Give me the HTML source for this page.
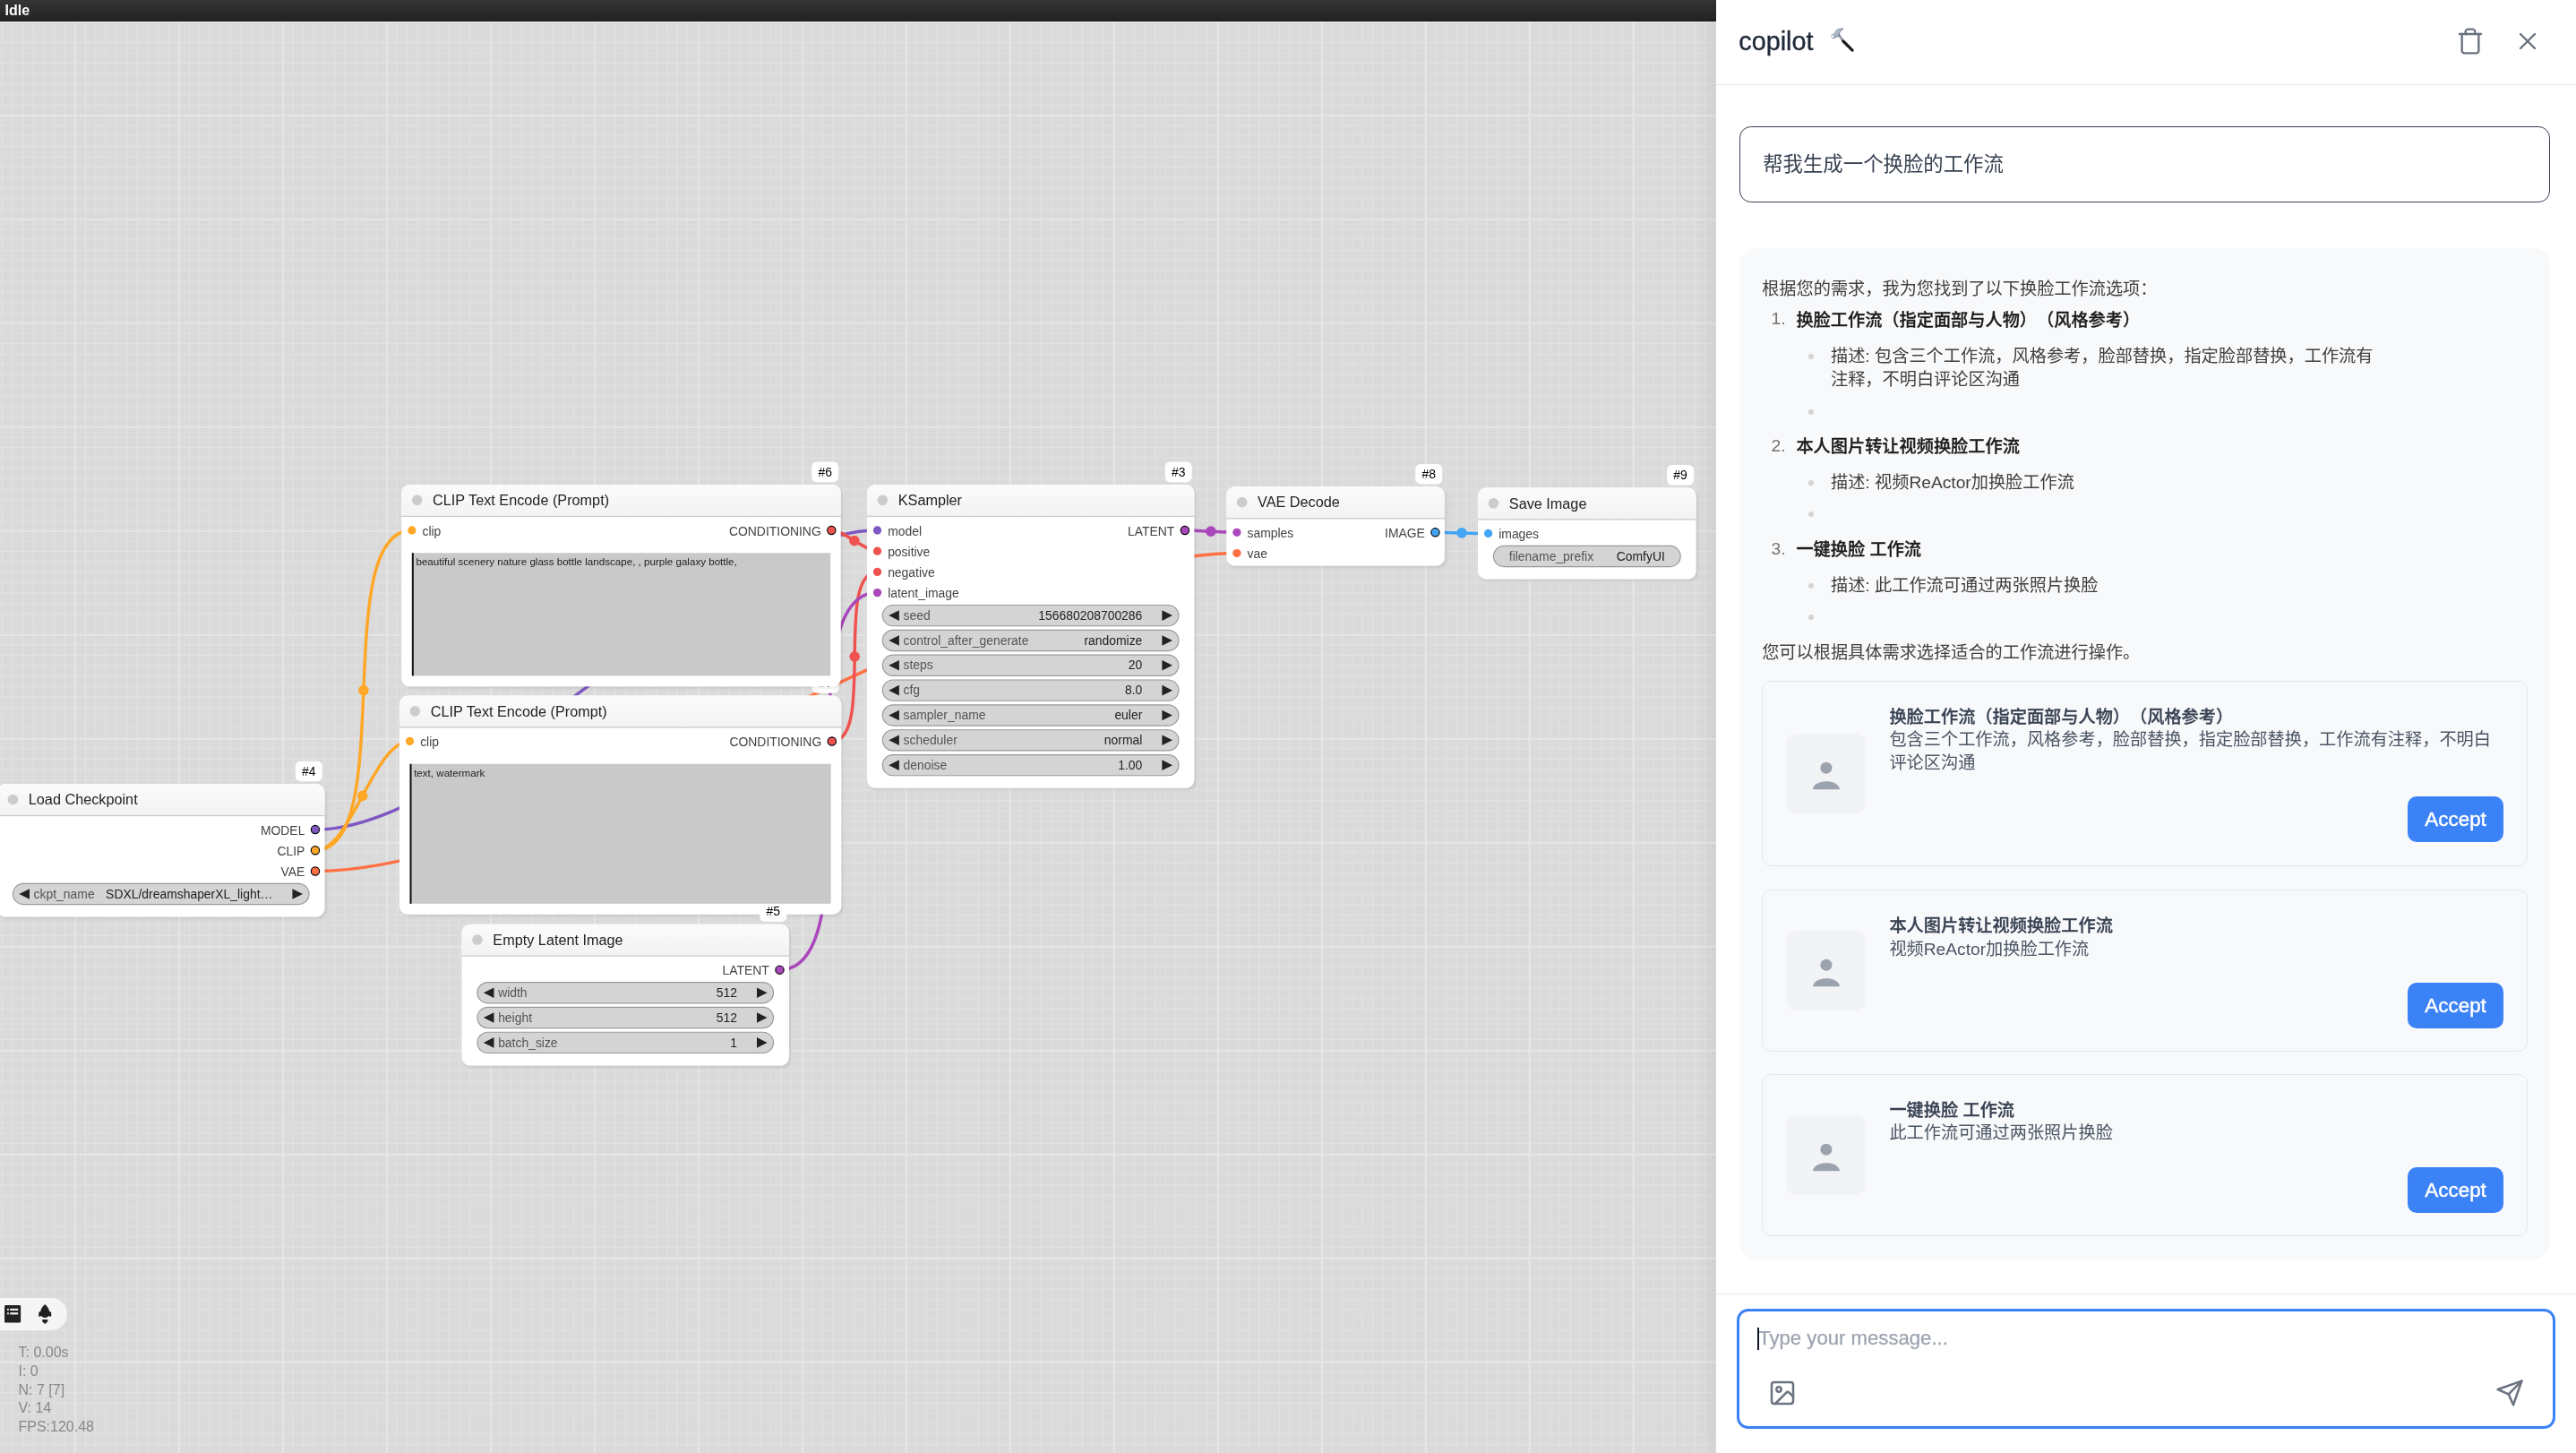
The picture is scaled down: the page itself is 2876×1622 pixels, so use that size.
<!DOCTYPE html>
<html lang="zh"><head><meta charset="utf-8"><title>ComfyUI</title>
<style>
html,body{margin:0;padding:0;width:2876px;height:1622px;overflow:hidden;background:#dadada;font-family:"Liberation Sans", "Noto Sans CJK SC", sans-serif}
#root{position:absolute;left:0;top:0;width:2876px;height:1622px;will-change:transform}
.a{position:absolute}
.t{position:absolute;white-space:nowrap;text-spacing-trim:space-all}
#cv{position:absolute;left:0;top:0;width:1916px;height:1622px;overflow:hidden;background-color:#dadada;
background-image:
linear-gradient(to right,#e5e5e5 0,#e5e5e5 2px,transparent 2px),
linear-gradient(to bottom,#e5e5e5 0,#e5e5e5 2px,transparent 2px),
linear-gradient(to right,#e2e2e2 0,#e2e2e2 1.3px,transparent 1.3px),
linear-gradient(to bottom,#e2e2e2 0,#e2e2e2 1.3px,transparent 1.3px);
background-size:116px 116px,116px 116px,11.6px 11.6px,11.6px 11.6px;
background-position:83px 0,0 11.9px,83.3px 0,0 12.2px}
#bar{position:absolute;left:0;top:0;width:1916px;height:24px;background:linear-gradient(#353535,#232323);border-bottom:1px solid #161616;box-shadow:0 1px 0 #ececec;box-sizing:border-box;color:#fff;font-weight:700;font-size:16px;line-height:23px;padding-left:5.5px}
#pill{position:absolute;left:0;top:1449px;width:75px;height:36px;border-radius:0 18px 18px 0;background:#f5f5f5}
#stats{position:absolute;left:20.5px;top:1500.2px;color:#888;font-size:16px;line-height:20.75px;white-space:pre}
#panel{position:absolute;left:1916px;top:0;width:960px;height:1622px;background:#fff;box-shadow:0 0 26px rgba(0,0,0,0.09)}
.btn{width:107.2px;height:51px;border-radius:10px;background:#3b82f6;color:#fff;font-size:22.4px;line-height:52px;text-align:center;font-weight:400;-webkit-text-stroke:0.45px #fff}
</style></head><body>
<div id="root">
<div id="cv">
<svg width="1916" height="1622" viewBox="0 0 1916 1622" style="position:absolute;left:0;top:0;font-family:'Liberation Sans', 'Noto Sans CJK SC', sans-serif" overflow="hidden">
<defs><linearGradient id="tg" x1="0" y1="0" x2="0" y2="1"><stop offset="0" stop-color="#fbfbfb"/><stop offset="1" stop-color="#f3f3f3"/></linearGradient><filter id="sh" x="-5%" y="-5%" width="110%" height="115%"><feDropShadow dx="2.3" dy="2.3" stdDeviation="1.8" flood-color="#000" flood-opacity="0.085"/></filter></defs>
<path d="M351.97 926.08 C529.71 926.08 801.79 592 979.53 592" fill="none" stroke="#7E57C2" stroke-width="3.48"/>
<circle cx="665.75" cy="759.04" r="5.8" fill="#7E57C2"/>
<path d="M351.97 949.28 C445.27 949.28 366.55 592 459.85 592" fill="none" stroke="#FFA726" stroke-width="3.48"/>
<circle cx="405.91" cy="770.64" r="5.8" fill="#FFA726"/>
<path d="M351.97 949.28 C392.26 949.28 417.24 827.48 457.53 827.48" fill="none" stroke="#FFA726" stroke-width="3.48"/>
<circle cx="404.75" cy="888.38" r="5.8" fill="#FFA726"/>
<path d="M351.97 972.48 C624.08 972.48 1108.78 617.52 1380.89 617.52" fill="none" stroke="#FF7043" stroke-width="3.48"/>
<circle cx="866.43" cy="795" r="5.8" fill="#FF7043"/>
<path d="M928.32 592 C942.37 592 965.47 615.2 979.53 615.2" fill="none" stroke="#EF5350" stroke-width="3.48"/>
<circle cx="953.92" cy="603.6" r="5.8" fill="#EF5350"/>
<path d="M928.81 827.48 C977.76 827.48 930.59 638.4 979.53 638.4" fill="none" stroke="#EF5350" stroke-width="3.48"/>
<circle cx="954.17" cy="732.94" r="5.8" fill="#EF5350"/>
<path d="M870.49 1082.68 C979.23 1082.68 870.79 661.6 979.53 661.6" fill="none" stroke="#AB47BC" stroke-width="3.48"/>
<circle cx="925.01" cy="872.14" r="5.8" fill="#AB47BC"/>
<path d="M1322.89 592 C1337.4 592 1366.38 594.32 1380.89 594.32" fill="none" stroke="#AB47BC" stroke-width="3.48"/>
<circle cx="1351.89" cy="593.16" r="5.8" fill="#AB47BC"/>
<path d="M1602.45 594.32 C1617.24 594.32 1646.82 595.48 1661.61 595.48" fill="none" stroke="#42A5F5" stroke-width="3.48"/>
<circle cx="1632.03" cy="594.9" r="5.8" fill="#42A5F5"/>
<g filter="url(#sh)">
<path d="M455.21 776.44 h474.76 a9.28 9.28 0 0 1 9.28 9.28 v225.75 a9.28 9.28 0 0 1 -9.28 9.28 h-474.76 a9.28 9.28 0 0 1 -9.28 -9.28 v-225.75 a9.28 9.28 0 0 1 9.28 -9.28 z" fill="#fff"/>
</g>
<path d="M455.21 776.44 h474.76 a9.28 9.28 0 0 1 9.28 9.28 v25.52 h-493.32 v-25.52 a9.28 9.28 0 0 1 9.28 -9.28 z" fill="url(#tg)"/>
<rect x="445.93" y="811.24" width="493.32" height="1.35" fill="rgba(0,0,0,0.2)"/>
<circle cx="463.33" cy="793.84" r="5.8" fill="#ccc"/>
<text x="480.73" y="799.64" font-size="16.24" fill="#222">CLIP Text Encode (Prompt)</text>
<circle cx="457.53" cy="827.48" r="4.64" fill="#FFA726"/>
<text x="469.13" y="833.28" font-size="13.92" fill="#444">clip</text>
<circle cx="928.81" cy="827.48" r="4.64" fill="#EF5350" stroke="#000" stroke-width="1.16"/>
<text x="917.21" y="833.28" font-size="13.92" fill="#444" text-anchor="end">CONDITIONING</text>
<rect x="906.65" y="751.04" width="30" height="22.6" rx="5.8" fill="#fff"/>
<text x="921.65" y="767.04" font-size="13.92" fill="#000" text-anchor="middle">#7</text>
<g filter="url(#sh)">
<path d="M457.53 540.96 h471.95 a9.28 9.28 0 0 1 9.28 9.28 v206.84 a9.28 9.28 0 0 1 -9.28 9.28 h-471.95 a9.28 9.28 0 0 1 -9.28 -9.28 v-206.84 a9.28 9.28 0 0 1 9.28 -9.28 z" fill="#fff"/>
</g>
<path d="M457.53 540.96 h471.95 a9.28 9.28 0 0 1 9.28 9.28 v25.52 h-490.51 v-25.52 a9.28 9.28 0 0 1 9.28 -9.28 z" fill="url(#tg)"/>
<rect x="448.25" y="575.76" width="490.51" height="1.35" fill="rgba(0,0,0,0.2)"/>
<circle cx="465.65" cy="558.36" r="5.8" fill="#ccc"/>
<text x="483.05" y="564.16" font-size="16.24" fill="#222">CLIP Text Encode (Prompt)</text>
<circle cx="459.85" cy="592" r="4.64" fill="#FFA726"/>
<text x="471.45" y="597.8" font-size="13.92" fill="#444">clip</text>
<circle cx="928.32" cy="592" r="4.64" fill="#EF5350" stroke="#000" stroke-width="1.16"/>
<text x="916.72" y="597.8" font-size="13.92" fill="#444" text-anchor="end">CONDITIONING</text>
<rect x="906.16" y="515.56" width="30" height="22.6" rx="5.8" fill="#fff"/>
<text x="921.16" y="531.56" font-size="13.92" fill="#000" text-anchor="middle">#6</text>
<g filter="url(#sh)">
<path d="M524.81 1031.64 h346.84 a9.28 9.28 0 0 1 9.28 9.28 v139.2 a9.28 9.28 0 0 1 -9.28 9.28 h-346.84 a9.28 9.28 0 0 1 -9.28 -9.28 v-139.2 a9.28 9.28 0 0 1 9.28 -9.28 z" fill="#fff"/>
</g>
<path d="M524.81 1031.64 h346.84 a9.28 9.28 0 0 1 9.28 9.28 v25.52 h-365.4 v-25.52 a9.28 9.28 0 0 1 9.28 -9.28 z" fill="url(#tg)"/>
<rect x="515.53" y="1066.44" width="365.4" height="1.35" fill="rgba(0,0,0,0.2)"/>
<circle cx="532.93" cy="1049.04" r="5.8" fill="#ccc"/>
<text x="550.33" y="1054.84" font-size="16.24" fill="#222">Empty Latent Image</text>
<circle cx="870.49" cy="1082.68" r="4.64" fill="#AB47BC" stroke="#000" stroke-width="1.16"/>
<text x="858.89" y="1088.48" font-size="13.92" fill="#444" text-anchor="end">LATENT</text>
<rect x="532.93" y="1096.6" width="330.6" height="23.2" rx="11.6" fill="#D4D4D4" stroke="#999" stroke-width="1.16"/>
<path d="M551.49 1102.4 L539.89 1108.2 L551.49 1114 z" fill="#222"/>
<path d="M844.97 1102.4 L856.57 1108.2 L844.97 1114 z" fill="#222"/>
<text x="556.13" y="1112.84" font-size="13.92" fill="#555">width</text>
<text x="822.93" y="1112.84" font-size="13.92" fill="#222" text-anchor="end">512</text>
<rect x="532.93" y="1124.44" width="330.6" height="23.2" rx="11.6" fill="#D4D4D4" stroke="#999" stroke-width="1.16"/>
<path d="M551.49 1130.24 L539.89 1136.04 L551.49 1141.84 z" fill="#222"/>
<path d="M844.97 1130.24 L856.57 1136.04 L844.97 1141.84 z" fill="#222"/>
<text x="556.13" y="1140.68" font-size="13.92" fill="#555">height</text>
<text x="822.93" y="1140.68" font-size="13.92" fill="#222" text-anchor="end">512</text>
<rect x="532.93" y="1152.28" width="330.6" height="23.2" rx="11.6" fill="#D4D4D4" stroke="#999" stroke-width="1.16"/>
<path d="M551.49 1158.08 L539.89 1163.88 L551.49 1169.68 z" fill="#222"/>
<path d="M844.97 1158.08 L856.57 1163.88 L844.97 1169.68 z" fill="#222"/>
<text x="556.13" y="1168.52" font-size="13.92" fill="#555">batch_size</text>
<text x="822.93" y="1168.52" font-size="13.92" fill="#222" text-anchor="end">1</text>
<rect x="848.33" y="1006.24" width="30" height="22.6" rx="5.8" fill="#fff"/>
<text x="863.33" y="1022.24" font-size="13.92" fill="#000" text-anchor="middle">#5</text>
<g filter="url(#sh)">
<path d="M977.21 540.96 h346.84 a9.28 9.28 0 0 1 9.28 9.28 v320.16 a9.28 9.28 0 0 1 -9.28 9.28 h-346.84 a9.28 9.28 0 0 1 -9.28 -9.28 v-320.16 a9.28 9.28 0 0 1 9.28 -9.28 z" fill="#fff"/>
</g>
<path d="M977.21 540.96 h346.84 a9.28 9.28 0 0 1 9.28 9.28 v25.52 h-365.4 v-25.52 a9.28 9.28 0 0 1 9.28 -9.28 z" fill="url(#tg)"/>
<rect x="967.93" y="575.76" width="365.4" height="1.35" fill="rgba(0,0,0,0.2)"/>
<circle cx="985.33" cy="558.36" r="5.8" fill="#ccc"/>
<text x="1002.73" y="564.16" font-size="16.24" fill="#222">KSampler</text>
<circle cx="979.53" cy="592" r="4.64" fill="#7E57C2"/>
<text x="991.13" y="597.8" font-size="13.92" fill="#444">model</text>
<circle cx="979.53" cy="615.2" r="4.64" fill="#EF5350"/>
<text x="991.13" y="621" font-size="13.92" fill="#444">positive</text>
<circle cx="979.53" cy="638.4" r="4.64" fill="#EF5350"/>
<text x="991.13" y="644.2" font-size="13.92" fill="#444">negative</text>
<circle cx="979.53" cy="661.6" r="4.64" fill="#AB47BC"/>
<text x="991.13" y="667.4" font-size="13.92" fill="#444">latent_image</text>
<circle cx="1322.89" cy="592" r="4.64" fill="#AB47BC" stroke="#000" stroke-width="1.16"/>
<text x="1311.29" y="597.8" font-size="13.92" fill="#444" text-anchor="end">LATENT</text>
<rect x="985.33" y="675.52" width="330.6" height="23.2" rx="11.6" fill="#D4D4D4" stroke="#999" stroke-width="1.16"/>
<path d="M1003.89 681.32 L992.29 687.12 L1003.89 692.92 z" fill="#222"/>
<path d="M1297.37 681.32 L1308.97 687.12 L1297.37 692.92 z" fill="#222"/>
<text x="1008.53" y="691.76" font-size="13.92" fill="#555">seed</text>
<text x="1275.33" y="691.76" font-size="13.92" fill="#222" text-anchor="end">156680208700286</text>
<rect x="985.33" y="703.36" width="330.6" height="23.2" rx="11.6" fill="#D4D4D4" stroke="#999" stroke-width="1.16"/>
<path d="M1003.89 709.16 L992.29 714.96 L1003.89 720.76 z" fill="#222"/>
<path d="M1297.37 709.16 L1308.97 714.96 L1297.37 720.76 z" fill="#222"/>
<text x="1008.53" y="719.6" font-size="13.92" fill="#555">control_after_generate</text>
<text x="1275.33" y="719.6" font-size="13.92" fill="#222" text-anchor="end">randomize</text>
<rect x="985.33" y="731.2" width="330.6" height="23.2" rx="11.6" fill="#D4D4D4" stroke="#999" stroke-width="1.16"/>
<path d="M1003.89 737 L992.29 742.8 L1003.89 748.6 z" fill="#222"/>
<path d="M1297.37 737 L1308.97 742.8 L1297.37 748.6 z" fill="#222"/>
<text x="1008.53" y="747.44" font-size="13.92" fill="#555">steps</text>
<text x="1275.33" y="747.44" font-size="13.92" fill="#222" text-anchor="end">20</text>
<rect x="985.33" y="759.04" width="330.6" height="23.2" rx="11.6" fill="#D4D4D4" stroke="#999" stroke-width="1.16"/>
<path d="M1003.89 764.84 L992.29 770.64 L1003.89 776.44 z" fill="#222"/>
<path d="M1297.37 764.84 L1308.97 770.64 L1297.37 776.44 z" fill="#222"/>
<text x="1008.53" y="775.28" font-size="13.92" fill="#555">cfg</text>
<text x="1275.33" y="775.28" font-size="13.92" fill="#222" text-anchor="end">8.0</text>
<rect x="985.33" y="786.88" width="330.6" height="23.2" rx="11.6" fill="#D4D4D4" stroke="#999" stroke-width="1.16"/>
<path d="M1003.89 792.68 L992.29 798.48 L1003.89 804.28 z" fill="#222"/>
<path d="M1297.37 792.68 L1308.97 798.48 L1297.37 804.28 z" fill="#222"/>
<text x="1008.53" y="803.12" font-size="13.92" fill="#555">sampler_name</text>
<text x="1275.33" y="803.12" font-size="13.92" fill="#222" text-anchor="end">euler</text>
<rect x="985.33" y="814.72" width="330.6" height="23.2" rx="11.6" fill="#D4D4D4" stroke="#999" stroke-width="1.16"/>
<path d="M1003.89 820.52 L992.29 826.32 L1003.89 832.12 z" fill="#222"/>
<path d="M1297.37 820.52 L1308.97 826.32 L1297.37 832.12 z" fill="#222"/>
<text x="1008.53" y="830.96" font-size="13.92" fill="#555">scheduler</text>
<text x="1275.33" y="830.96" font-size="13.92" fill="#222" text-anchor="end">normal</text>
<rect x="985.33" y="842.56" width="330.6" height="23.2" rx="11.6" fill="#D4D4D4" stroke="#999" stroke-width="1.16"/>
<path d="M1003.89 848.36 L992.29 854.16 L1003.89 859.96 z" fill="#222"/>
<path d="M1297.37 848.36 L1308.97 854.16 L1297.37 859.96 z" fill="#222"/>
<text x="1008.53" y="858.8" font-size="13.92" fill="#555">denoise</text>
<text x="1275.33" y="858.8" font-size="13.92" fill="#222" text-anchor="end">1.00</text>
<rect x="1300.73" y="515.56" width="30" height="22.6" rx="5.8" fill="#fff"/>
<text x="1315.73" y="531.56" font-size="13.92" fill="#000" text-anchor="middle">#3</text>
<g filter="url(#sh)">
<path d="M1378.57 543.28 h225.04 a9.28 9.28 0 0 1 9.28 9.28 v69.6 a9.28 9.28 0 0 1 -9.28 9.28 h-225.04 a9.28 9.28 0 0 1 -9.28 -9.28 v-69.6 a9.28 9.28 0 0 1 9.28 -9.28 z" fill="#fff"/>
</g>
<path d="M1378.57 543.28 h225.04 a9.28 9.28 0 0 1 9.28 9.28 v25.52 h-243.6 v-25.52 a9.28 9.28 0 0 1 9.28 -9.28 z" fill="url(#tg)"/>
<rect x="1369.29" y="578.08" width="243.6" height="1.35" fill="rgba(0,0,0,0.2)"/>
<circle cx="1386.69" cy="560.68" r="5.8" fill="#ccc"/>
<text x="1404.09" y="566.48" font-size="16.24" fill="#222">VAE Decode</text>
<circle cx="1380.89" cy="594.32" r="4.64" fill="#AB47BC"/>
<text x="1392.49" y="600.12" font-size="13.92" fill="#444">samples</text>
<circle cx="1380.89" cy="617.52" r="4.64" fill="#FF7043"/>
<text x="1392.49" y="623.32" font-size="13.92" fill="#444">vae</text>
<circle cx="1602.45" cy="594.32" r="4.64" fill="#42A5F5" stroke="#000" stroke-width="1.16"/>
<text x="1590.85" y="600.12" font-size="13.92" fill="#444" text-anchor="end">IMAGE</text>
<rect x="1580.29" y="517.88" width="30" height="22.6" rx="5.8" fill="#fff"/>
<text x="1595.29" y="533.88" font-size="13.92" fill="#000" text-anchor="middle">#8</text>
<g filter="url(#sh)">
<path d="M1659.29 544.44 h225.04 a9.28 9.28 0 0 1 9.28 9.28 v83.52 a9.28 9.28 0 0 1 -9.28 9.28 h-225.04 a9.28 9.28 0 0 1 -9.28 -9.28 v-83.52 a9.28 9.28 0 0 1 9.28 -9.28 z" fill="#fff"/>
</g>
<path d="M1659.29 544.44 h225.04 a9.28 9.28 0 0 1 9.28 9.28 v25.52 h-243.6 v-25.52 a9.28 9.28 0 0 1 9.28 -9.28 z" fill="url(#tg)"/>
<rect x="1650.01" y="579.24" width="243.6" height="1.35" fill="rgba(0,0,0,0.2)"/>
<circle cx="1667.41" cy="561.84" r="5.8" fill="#ccc"/>
<text x="1684.81" y="567.64" font-size="16.24" fill="#222">Save Image</text>
<circle cx="1661.61" cy="595.48" r="4.64" fill="#42A5F5"/>
<text x="1673.21" y="601.28" font-size="13.92" fill="#444">images</text>
<rect x="1667.41" y="609.4" width="208.8" height="23.2" rx="11.6" fill="#D4D4D4" stroke="#999" stroke-width="1.16"/>
<text x="1684.81" y="625.64" font-size="13.92" fill="#555">filename_prefix</text>
<text x="1858.81" y="625.64" font-size="13.92" fill="#222" text-anchor="end">ComfyUI</text>
<rect x="1861.01" y="519.04" width="30" height="22.6" rx="5.8" fill="#fff"/>
<text x="1876.01" y="535.04" font-size="13.92" fill="#000" text-anchor="middle">#9</text>
<g filter="url(#sh)">
<path d="M6.29 875.04 h346.84 a9.28 9.28 0 0 1 9.28 9.28 v129.92 a9.28 9.28 0 0 1 -9.28 9.28 h-346.84 a9.28 9.28 0 0 1 -9.28 -9.28 v-129.92 a9.28 9.28 0 0 1 9.28 -9.28 z" fill="#fff"/>
</g>
<path d="M6.29 875.04 h346.84 a9.28 9.28 0 0 1 9.28 9.28 v25.52 h-365.4 v-25.52 a9.28 9.28 0 0 1 9.28 -9.28 z" fill="url(#tg)"/>
<rect x="-2.99" y="909.84" width="365.4" height="1.35" fill="rgba(0,0,0,0.2)"/>
<circle cx="14.41" cy="892.44" r="5.8" fill="#ccc"/>
<text x="31.81" y="898.24" font-size="16.24" fill="#222">Load Checkpoint</text>
<circle cx="351.97" cy="926.08" r="4.64" fill="#7E57C2" stroke="#000" stroke-width="1.16"/>
<text x="340.37" y="931.88" font-size="13.92" fill="#444" text-anchor="end">MODEL</text>
<circle cx="351.97" cy="949.28" r="4.64" fill="#FFA726" stroke="#000" stroke-width="1.16"/>
<text x="340.37" y="955.08" font-size="13.92" fill="#444" text-anchor="end">CLIP</text>
<circle cx="351.97" cy="972.48" r="4.64" fill="#FF7043" stroke="#000" stroke-width="1.16"/>
<text x="340.37" y="978.28" font-size="13.92" fill="#444" text-anchor="end">VAE</text>
<rect x="14.41" y="986.4" width="330.6" height="23.2" rx="11.6" fill="#D4D4D4" stroke="#999" stroke-width="1.16"/>
<path d="M32.97 992.2 L21.37 998 L32.97 1003.8 z" fill="#222"/>
<path d="M326.45 992.2 L338.05 998 L326.45 1003.8 z" fill="#222"/>
<text x="37.61" y="1002.64" font-size="13.92" fill="#555">ckpt_name</text>
<text x="304.41" y="1002.64" font-size="13.92" fill="#222" text-anchor="end">SDXL/dreamshaperXL_light…</text>
<rect x="329.81" y="849.64" width="30" height="22.6" rx="5.8" fill="#fff"/>
<text x="344.81" y="865.64" font-size="13.92" fill="#000" text-anchor="middle">#4</text>
<rect x="457.53" y="852.77" width="470.12" height="156.03" fill="#c9c9c9"/>
<rect x="457.53" y="852.77" width="2" height="156.03" fill="#111"/>
<text x="462.13" y="866.57" font-size="11.6" fill="#222">text, watermark</text>
<rect x="459.85" y="617.29" width="467.31" height="137.12" fill="#c9c9c9"/>
<rect x="459.85" y="617.29" width="2" height="137.12" fill="#111"/>
<text x="464.45" y="631.09" font-size="11.6" fill="#222">beautiful scenery nature glass bottle landscape, , purple galaxy bottle,</text>





</svg>
</div>
<div id="bar">Idle</div>
<div id="pill">
<svg class="a" style="left:5px;top:8.2px" width="19" height="20" viewBox="0 0 19 20"><rect x="0.05" y="0" width="18.1" height="19.6" rx="1.4" fill="#222"/><rect x="3.1" y="3.8" width="1.7" height="2.1" fill="#f5f5f5"/><rect x="6.2" y="3.8" width="9" height="2.1" fill="#f5f5f5"/><rect x="3.1" y="8.2" width="1.7" height="2.2" fill="#f5f5f5"/><rect x="6.2" y="8.2" width="9" height="2.2" fill="#f5f5f5"/></svg>
<svg class="a" style="left:42px;top:7px" width="17" height="23" viewBox="0 0 17 23"><path d="M8.2 0 C10.9 2 12.7 5.2 13.2 8 L14.6 8.6 Q15.2 8.9 15.2 9.6 V13.2 Q15.2 14 14.4 13.8 L12.6 13 Q10.6 14.9 8.2 14.9 Q5.8 14.9 3.8 13 L2 13.8 Q1.2 14 1.2 13.2 V9.6 Q1.2 8.9 1.8 8.6 L3.2 8 C3.7 5.2 5.5 2 8.2 0Z" fill="#222"/><path d="M5.2 17 H11.3 V19.2 L8.25 22 L5.2 19.2Z" fill="#222"/></svg>
</div>
<div id="stats">T: 0.00s
I: 0
N: 7 [7]
V: 14
FPS:120.48</div>
<div id="panel"></div>
<div class="t" style="left:1941.3px;top:25.8px;font-size:28.8px;line-height:40px;color:#1f2937;font-weight:400;-webkit-text-stroke:0.35px #1f2937;">copilot</div>
<svg class="a" style="left:2030px;top:22px" width="56" height="44" viewBox="0 0 56 44">
<defs><linearGradient id="hm" x1="0" y1="0" x2="1" y2="1"><stop offset="0" stop-color="#e9eef4"/><stop offset="0.5" stop-color="#a9b6c8"/><stop offset="1" stop-color="#7f8da3"/></linearGradient></defs>
<path d="M22.6 16.4 L27.6 23.6" stroke="#6f7785" stroke-width="2.6" stroke-linecap="round"/>
<path d="M22.9 16.8 L27.3 23.2" stroke="#d3dbe6" stroke-width="1.2" stroke-linecap="butt" stroke-dasharray="0.7 0.6"/>
<path d="M27.9 24 L38.1 34.1" stroke="#1b1c1f" stroke-width="3.2" stroke-linecap="round"/>
<path d="M18.7 14.4 Q20.3 10.6 24 10.1 L28.1 10 Q25.6 11.8 24.4 13.4 Q23.2 15 23.6 17.6 L20.6 19.2 L17.2 20.8 Q14 20.6 14.1 18 Q14.4 15.8 17 16.4 Q17.6 15.4 18.7 14.4z" fill="url(#hm)" stroke="#4f5868" stroke-width="0.6"/>
<ellipse cx="15.7" cy="18.5" rx="1.5" ry="2.1" transform="rotate(-30 15.7 18.5)" fill="#eef3f8"/>
</svg>
<svg class="a" style="left:2742px;top:30px" width="32" height="32" viewBox="0 0 24 24" fill="none" stroke="#6b7280" stroke-width="1.8" stroke-linecap="round" stroke-linejoin="round"><path d="M3 6h18"/><path d="M19 6v14c0 1-1 2-2 2H7c-1 0-2-1-2-2V6"/><path d="M8 6V4c0-1 1-2 2-2h4c1 0 2 1 2 2v2"/></svg>
<svg class="a" style="left:2806px;top:30px" width="32" height="32" viewBox="0 0 24 24" fill="none" stroke="#6b7280" stroke-width="1.8" stroke-linecap="round" stroke-linejoin="round"><path d="M18 6 6 18"/><path d="m6 6 12 12"/></svg>
<div class="a" style="left:1916px;top:94px;width:960px;height:1px;background:#e5e7eb"></div>
<div class="a" style="left:1942px;top:141px;width:904.8px;height:84.8px;box-sizing:border-box;border:1px solid #374151;border-radius:12.8px;background:#fff"></div>
<div class="t" style="left:1968.2px;top:167.7px;font-size:22.4px;line-height:32px;color:#374151;font-weight:400;">帮我生成一个换脸的工作流</div>
<div class="a" style="left:1942px;top:277px;width:904.7px;height:1129.3px;border-radius:19px;background:#f8f9fb"></div>
<div class="t" style="left:1967.2px;top:309.5px;font-size:19.2px;line-height:26px;color:#404040;font-weight:400;">根据您的需求，我为您找到了以下换脸工作流选项：</div>
<div class="t" style="left:1977.5px;top:343.3px;font-size:19.2px;line-height:26px;color:#737373;font-weight:400;">1.</div><div class="t" style="left:2005.4px;top:344.6px;font-size:19.2px;line-height:26px;color:#1a1a1a;font-weight:500;-webkit-text-stroke:0.3px currentColor;">换脸工作流（指定面部与人物）（风格参考）</div>
<div class="a" style="left:2018.6px;top:395px;width:6px;height:6px;border-radius:3px;background:#d4d4d4"></div>
<div class="t" style="left:2044px;top:384.9px;font-size:19.2px;line-height:26px;color:#404040;font-weight:400;">描述: 包含三个工作流，风格参考，脸部替换，指定脸部替换，工作流有</div>
<div class="t" style="left:2044px;top:410.7px;font-size:19.2px;line-height:26px;color:#404040;font-weight:400;">注释，不明白评论区沟通</div>
<div class="a" style="left:2018.6px;top:456.5px;width:6px;height:6px;border-radius:3px;background:#d4d4d4"></div>
<div class="t" style="left:1977.5px;top:484.6px;font-size:19.2px;line-height:26px;color:#737373;font-weight:400;">2.</div><div class="t" style="left:2005.4px;top:485.9px;font-size:19.2px;line-height:26px;color:#1a1a1a;font-weight:500;-webkit-text-stroke:0.3px currentColor;">本人图片转让视频换脸工作流</div>
<div class="a" style="left:2018.6px;top:535.7px;width:6px;height:6px;border-radius:3px;background:#d4d4d4"></div>
<div class="t" style="left:2044px;top:525.6px;font-size:19.2px;line-height:26px;color:#404040;font-weight:400;">描述: 视频ReActor加换脸工作流</div>
<div class="a" style="left:2018.6px;top:571.4px;width:6px;height:6px;border-radius:3px;background:#d4d4d4"></div>
<div class="t" style="left:1977.5px;top:599.5px;font-size:19.2px;line-height:26px;color:#737373;font-weight:400;">3.</div><div class="t" style="left:2005.4px;top:600.8px;font-size:19.2px;line-height:26px;color:#1a1a1a;font-weight:500;-webkit-text-stroke:0.3px currentColor;">一键换脸 工作流</div>
<div class="a" style="left:2018.6px;top:650.7px;width:6px;height:6px;border-radius:3px;background:#d4d4d4"></div>
<div class="t" style="left:2044px;top:640.5px;font-size:19.2px;line-height:26px;color:#404040;font-weight:400;">描述: 此工作流可通过两张照片换脸</div>
<div class="a" style="left:2018.6px;top:686.3px;width:6px;height:6px;border-radius:3px;background:#d4d4d4"></div>
<div class="t" style="left:1967.2px;top:715.6px;font-size:19.2px;line-height:26px;color:#404040;font-weight:400;">您可以根据具体需求选择适合的工作流进行操作。</div>
<div class="a" style="left:1967px;top:760px;width:855px;height:206.8px;box-sizing:border-box;border:1px solid #e5e7eb;border-radius:10.5px"></div>
<div class="a" style="left:1994.3px;top:818.9px;width:89px;height:89px;border-radius:12px;background:#f2f3f5"></div>
<svg class="a" style="left:2022.6px;top:849.8px" width="32" height="32" viewBox="0 0 32 32"><circle cx="15.9" cy="7.2" r="6.5" fill="#9ca3af"/><path d="M1.6 31.2 Q0.8 31.2 1.1 30.3 C2.8 24.9 9 22.3 16 22.3 C23 22.3 29.2 24.9 30.9 30.3 Q31.2 31.2 30.4 31.2 Z" fill="#9ca3af"/></svg>
<div class="t" style="left:2109.4px;top:787.7px;font-size:19.2px;line-height:26px;color:#374151;font-weight:500;-webkit-text-stroke:0.3px currentColor;">换脸工作流（指定面部与人物）（风格参考）</div>
<div class="t" style="left:2109.4px;top:813.3px;font-size:19.2px;line-height:26px;color:#4b5563;font-weight:400;">包含三个工作流，风格参考，脸部替换，指定脸部替换，工作流有注释，不明白</div>
<div class="t" style="left:2109.4px;top:838.9px;font-size:19.2px;line-height:26px;color:#4b5563;font-weight:400;">评论区沟通</div>
<div class="a btn" style="left:2688px;top:889px">Accept</div>
<div class="a" style="left:1967px;top:993.4px;width:855px;height:180.8px;box-sizing:border-box;border:1px solid #e5e7eb;border-radius:10.5px"></div>
<div class="a" style="left:1994.3px;top:1039.3px;width:89px;height:89px;border-radius:12px;background:#f2f3f5"></div>
<svg class="a" style="left:2022.6px;top:1070.2px" width="32" height="32" viewBox="0 0 32 32"><circle cx="15.9" cy="7.2" r="6.5" fill="#9ca3af"/><path d="M1.6 31.2 Q0.8 31.2 1.1 30.3 C2.8 24.9 9 22.3 16 22.3 C23 22.3 29.2 24.9 30.9 30.3 Q31.2 31.2 30.4 31.2 Z" fill="#9ca3af"/></svg>
<div class="t" style="left:2109.4px;top:1021.1px;font-size:19.2px;line-height:26px;color:#374151;font-weight:500;-webkit-text-stroke:0.3px currentColor;">本人图片转让视频换脸工作流</div>
<div class="t" style="left:2109.4px;top:1046.7px;font-size:19.2px;line-height:26px;color:#4b5563;font-weight:400;">视频ReActor加换脸工作流</div>
<div class="a btn" style="left:2688px;top:1096.8px">Accept</div>
<div class="a" style="left:1967px;top:1199.1px;width:855px;height:180.8px;box-sizing:border-box;border:1px solid #e5e7eb;border-radius:10.5px"></div>
<div class="a" style="left:1994.3px;top:1245px;width:89px;height:89px;border-radius:12px;background:#f2f3f5"></div>
<svg class="a" style="left:2022.6px;top:1275.9px" width="32" height="32" viewBox="0 0 32 32"><circle cx="15.9" cy="7.2" r="6.5" fill="#9ca3af"/><path d="M1.6 31.2 Q0.8 31.2 1.1 30.3 C2.8 24.9 9 22.3 16 22.3 C23 22.3 29.2 24.9 30.9 30.3 Q31.2 31.2 30.4 31.2 Z" fill="#9ca3af"/></svg>
<div class="t" style="left:2109.4px;top:1226.8px;font-size:19.2px;line-height:26px;color:#374151;font-weight:500;-webkit-text-stroke:0.3px currentColor;">一键换脸 工作流</div>
<div class="t" style="left:2109.4px;top:1252.4px;font-size:19.2px;line-height:26px;color:#4b5563;font-weight:400;">此工作流可通过两张照片换脸</div>
<div class="a btn" style="left:2688px;top:1302.5px">Accept</div>
<div class="a" style="left:1916px;top:1444px;width:960px;height:1px;background:#e5e7eb"></div>
<div class="a" style="left:1939px;top:1461px;width:914px;height:134px;box-sizing:border-box;border:3.2px solid #3b82f6;border-radius:12.8px;background:#fff"></div>
<div class="t" style="left:1963.2px;top:1477.6px;font-size:22.15px;line-height:32px;color:#9ca3af;font-weight:400;-webkit-text-stroke:0.25px #9ca3af;">Type your message...</div>
<div class="a" style="left:1962px;top:1482.4px;width:1.6px;height:24.4px;background:#111827"></div>
<svg class="a" style="left:1974.2px;top:1539px" width="32" height="32" viewBox="0 0 24 24" fill="none" stroke="#6b7280" stroke-width="1.9" stroke-linecap="round" stroke-linejoin="round"><rect width="18" height="18" x="3" y="3" rx="2" ry="2"/><circle cx="9" cy="9" r="2"/><path d="m21 15-3.086-3.086a2 2 0 0 0-2.828 0L6 21"/></svg>
<svg class="a" style="left:2786.3px;top:1538.7px" width="32" height="32" viewBox="0 0 24 24" fill="none" stroke="#6b7280" stroke-width="1.9" stroke-linecap="round" stroke-linejoin="round"><path d="m22 2-7 20-4-9-9-4Z"/><path d="M22 2 11 13"/></svg>
</div>
</body></html>
